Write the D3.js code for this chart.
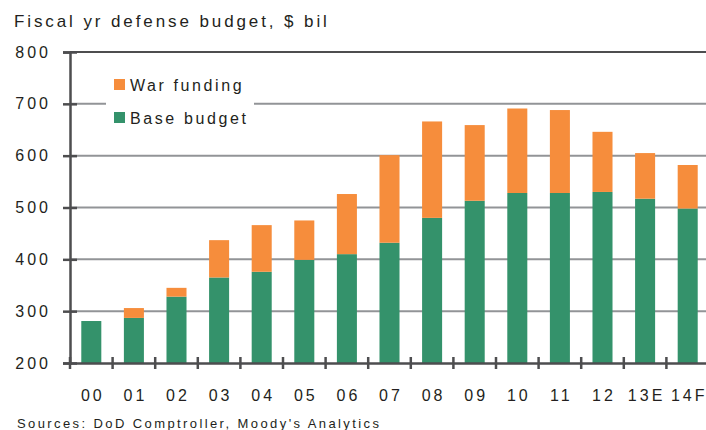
<!DOCTYPE html>
<html>
<head>
<meta charset="utf-8">
<script src="https://cdn.jsdelivr.net/npm/d3@7"></script>
<style>
  body { margin: 0; background: #fff; }
  text { font-family: "Liberation Sans", Arial, sans-serif; fill: #231f20; }
</style>
</head>
<body>
<svg width="706" height="430"></svg>
<script>
const years = ["00", "01", "02", "03", "04", "05", "06", "07", "08", "09", "10", "11", "12", "13E", "14F"];
const baseBudget = [281, 287, 328, 365, 376, 399, 410, 432, 480, 513, 528, 528, 530, 517, 498];
const warFunding = [0, 19, 17, 72, 90, 76, 116, 169, 186, 146, 163, 160, 116, 88, 84];
const yTicks = [200, 300, 400, 500, 600, 700, 800];

const ORANGE = "#f68d3c";
const GREEN = "#34926b";
const AXIS = "#4d4d4f";
const GRID = "#929497";

var svg = d3.select("svg");

const plotLeft = 70, plotRight = 709, plotTop = 52, plotBottom = 363;

var x = d3.scaleBand().domain(years).range([plotLeft, plotRight]).paddingInner(0.53).paddingOuter(0.265);
var y = d3.scaleLinear().domain([200, 800]).range([plotBottom, plotTop]);

var rows = years.map((yr, i) => ({ yr: yr, base: baseBudget[i], war: warFunding[i] }));
var stack = d3.stack().keys(["base", "war"])(rows);

// gridlines
svg.append("g")
  .selectAll("line")
  .data(yTicks.filter(t => t > 200 && t < 800))
  .enter().append("line")
    .attr("x1", plotLeft).attr("x2", 706)
    .attr("y1", d => y(d)).attr("y2", d => y(d))
    .attr("stroke", GRID).attr("stroke-width", 2);

// top border line
svg.append("line")
  .attr("x1", plotLeft).attr("x2", 706)
  .attr("y1", y(800)).attr("y2", y(800))
  .attr("stroke", AXIS).attr("stroke-width", 2);

// bars (axis starts at 200, so clip stack bottoms there)
svg.append("g")
  .selectAll("g")
  .data(stack)
  .enter().append("g")
    .attr("fill", (d, i) => i == 0 ? GREEN : ORANGE)
  .selectAll("rect")
  .data(d => d.filter(p => p[1] > p[0]))
  .enter().append("rect")
    .attr("x", d => x(d.data.yr))
    .attr("width", x.bandwidth())
    .attr("y", d => y(d[1]))
    .attr("height", d => y(Math.max(d[0], 200)) - y(d[1]));

// legend (white box hides grid)
var legend = svg.append("g");
legend.append("rect")
  .attr("x", 106).attr("y", 70).attr("width", 148).attr("height", 60)
  .attr("fill", "#fff");
var legendItems = [["War funding", ORANGE, 85], ["Base budget", GREEN, 118]];
legendItems.forEach(function(item) {
  legend.append("rect")
    .attr("x", 114).attr("y", item[2] - 6).attr("width", 11).attr("height", 11)
    .attr("fill", item[1]);
  legend.append("text")
    .attr("x", 130).attr("y", item[2]).attr("dy", "0.35em")
    .style("font-size", "16px").style("letter-spacing", "2.6px")
    .text(item[0]);
});

// y axis
var yAxis = svg.append("g")
  .attr("transform", "translate(" + plotLeft + ",0)")
  .call(d3.axisLeft(y).tickValues(yTicks).tickSize(7).tickPadding(0).tickFormat(d3.format("d")));
yAxis.select(".domain").attr("stroke", AXIS).attr("stroke-width", 2.5);
yAxis.selectAll(".tick line").attr("x2", 7).attr("x1", -7).attr("stroke", AXIS).attr("stroke-width", 2.5);
yAxis.selectAll(".tick text")
  .attr("x", -19)
  .style("font-size", "16px").style("letter-spacing", "3px")
  .attr("fill", "#231f20");

// x axis
var xAxis = svg.append("g")
  .attr("transform", "translate(0," + plotBottom + ")")
  .call(d3.axisBottom(x).tickSize(0).tickPadding(0));
xAxis.select(".domain").attr("stroke", AXIS).attr("stroke-width", 2.5);
xAxis.selectAll(".tick text")
  .attr("y", 27).attr("dx", "1.5px")
  .style("font-size", "16px").style("letter-spacing", "3px")
  .attr("fill", "#231f20");

// x separators between categories
var step = x.step();
svg.append("g")
  .selectAll("line")
  .data(d3.range(years.length))
  .enter().append("line")
    .attr("x1", i => plotLeft + i * step).attr("x2", i => plotLeft + i * step)
    .attr("y1", plotBottom - 6).attr("y2", plotBottom + 6)
    .attr("stroke", AXIS).attr("stroke-width", 2.5);

// title and source
svg.append("text")
  .attr("x", 14).attr("y", 27)
  .style("font-size", "17px").style("letter-spacing", "2.9px")
  .text("Fiscal yr defense budget, $ bil");

svg.append("text")
  .attr("x", 17).attr("y", 428)
  .style("font-size", "13px").style("letter-spacing", "2.4px")
  .text("Sources: DoD Comptroller, Moody's Analytics");
</script>
</body>
</html>
